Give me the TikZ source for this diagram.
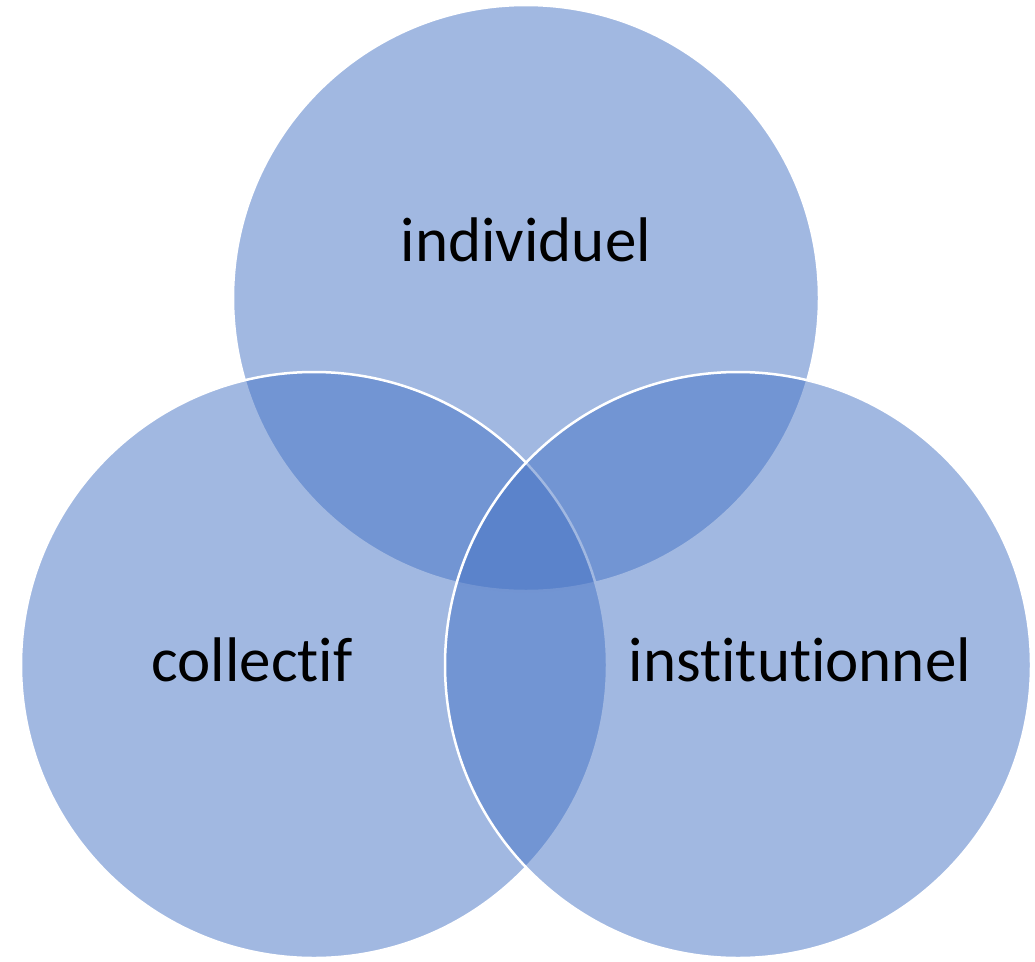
\documentclass[tikz,border=0pt]{standalone}
\usepackage{fontspec}
\setmainfont{Carlito}[Ligatures=NoCommon]
\definecolor{venn}{HTML}{4472C4}
\begin{document}
\begin{tikzpicture}[x=1pt,y=-1pt,
  vcircle/.style={circle,minimum size=586pt,inner sep=0pt,fill=venn,fill opacity=0.5,draw=white,draw opacity=1,line width=2.5pt},
  vlabel/.style={font=\fontsize{63}{70}\selectfont,text=black,text opacity=1,inner sep=0pt}]
\useasboundingbox (0,0) rectangle (1035,961);
\node[vcircle] (top) at (526,298) {};
\node[vcircle] (left) at (314,665) {};
\node[vcircle] (right) at (738,665) {};
\node[vlabel] (lt) at (526,240) {individuel};
\node[vlabel] (ll) at (252,660) {collectif};
\node[vlabel] (lr) at (800,660) {institutionnel};
\end{tikzpicture}
\end{document}
